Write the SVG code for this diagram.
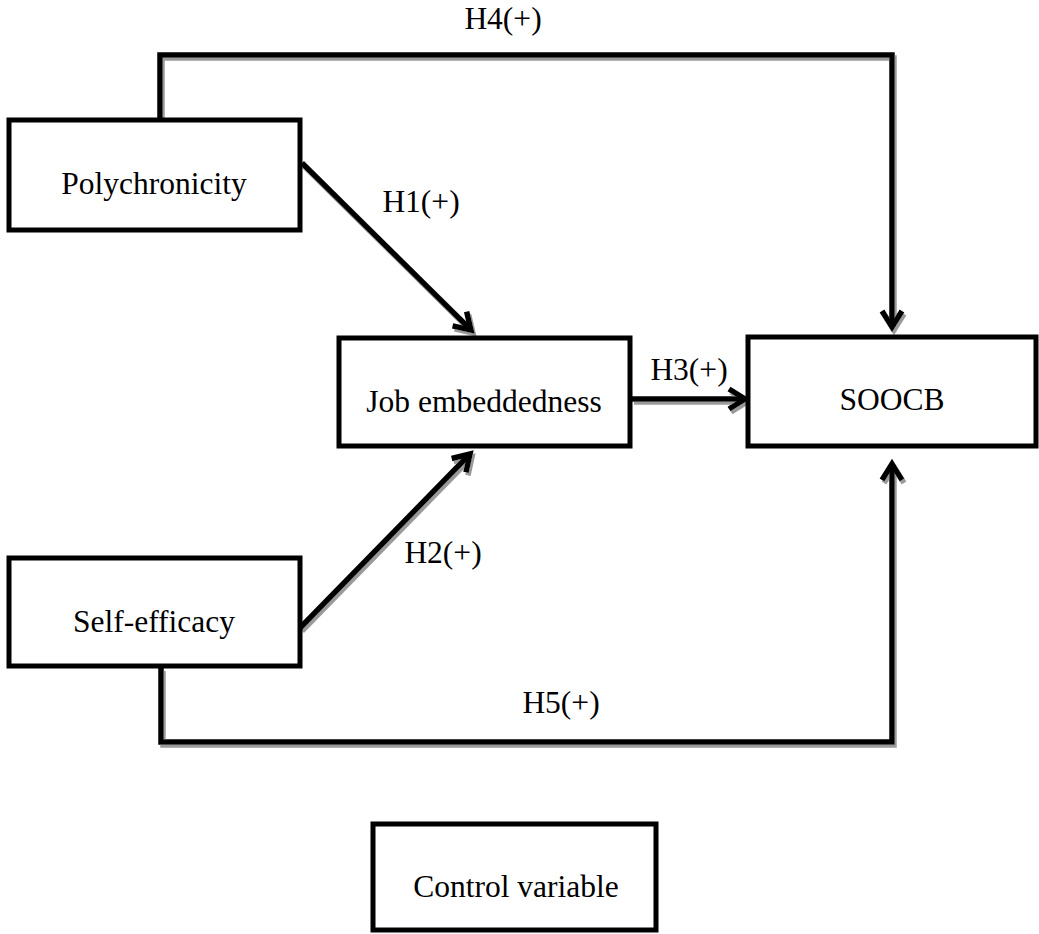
<svg xmlns="http://www.w3.org/2000/svg" width="1039" height="934" viewBox="0 0 1039 934">
<style>
.box{fill:#ffffff;stroke:#000000;stroke-width:5}
.lbl{font-family:"Liberation Serif","Times New Roman",serif;font-size:31.5px;fill:#000000;text-anchor:middle}
.ln{fill:none;stroke:#000000;stroke-width:5.5;stroke-linejoin:miter}
</style>
<defs>
<filter id="sh" x="-5%" y="-5%" width="110%" height="110%">
<feOffset in="SourceAlpha" dx="2" dy="3" result="o"/>
<feFlood flood-color="#9a9a9a"/>
<feComposite in2="o" operator="in" result="s"/>
<feMerge><feMergeNode in="s"/><feMergeNode in="SourceGraphic"/></feMerge>
</filter>
<marker id="arr" markerUnits="userSpaceOnUse" viewBox="-22 -14 26 28" markerWidth="26" markerHeight="28" refX="0" refY="0" orient="auto" overflow="visible">
<path d="M-16,-10 L0,0 L-16,10" fill="none" stroke="#000000" stroke-width="5.5" stroke-linejoin="miter"/>
</marker>
</defs>
<rect width="1039" height="934" fill="#ffffff"/>
<g id="connectors" filter="url(#sh)">
<path class="ln" d="M160,122 L160,55 L892,55 L892,327" marker-end="url(#arr)"/>
<path class="ln" d="M302,163 L471,330" marker-end="url(#arr)"/>
<path class="ln" d="M300,628 L470,454" marker-end="url(#arr)"/>
<path class="ln" d="M632,399 L745,399" marker-end="url(#arr)"/>
<path class="ln" d="M161,668 L161,742 L892,742 L892,464" marker-end="url(#arr)"/>
</g>
<g id="labels">
<text class="lbl" x="503" y="29">H4(+)</text>
<text class="lbl" x="421" y="212">H1(+)</text>
<text class="lbl" x="443" y="563">H2(+)</text>
<text class="lbl" x="689" y="380">H3(+)</text>
<text class="lbl" x="561" y="713">H5(+)</text>
</g>
<g id="polychronicity">
<rect class="box" x="9" y="120" width="291" height="110"/>
<text class="lbl" x="154" y="194">Polychronicity</text>
</g>
<g id="job-embeddedness">
<rect class="box" x="339" y="338" width="291" height="108"/>
<text class="lbl" x="484" y="412">Job embeddedness</text>
</g>
<g id="soocb">
<rect class="box" x="748" y="337" width="288" height="109"/>
<text class="lbl" x="892" y="410">SOOCB</text>
</g>
<g id="self-efficacy">
<rect class="box" x="9" y="558" width="291" height="108"/>
<text class="lbl" x="154" y="632">Self-efficacy</text>
</g>
<g id="control-variable">
<rect class="box" x="373" y="824" width="283" height="106"/>
<text class="lbl" x="516" y="897">Control variable</text>
</g>
</svg>
